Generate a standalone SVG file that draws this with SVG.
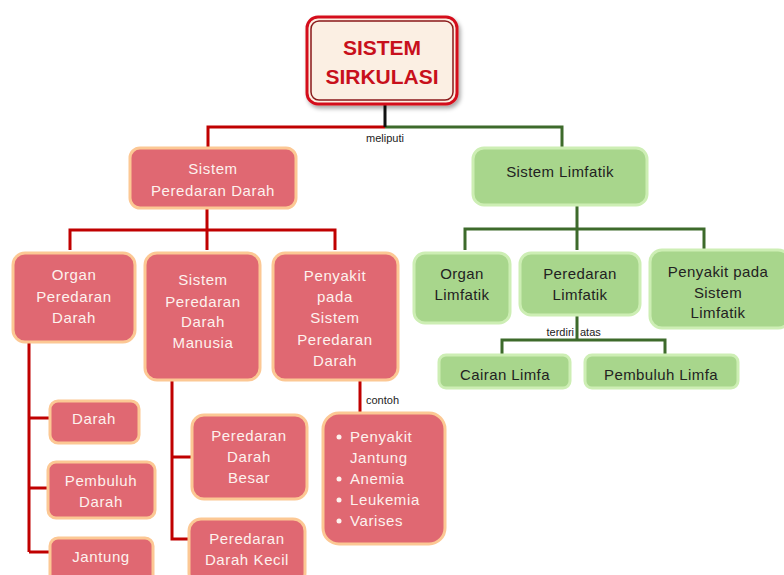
<svg xmlns="http://www.w3.org/2000/svg" width="784" height="575" viewBox="0 0 784 575">
<style>
.r{fill:#e06872;stroke:#fcc894;stroke-width:3}
.g{fill:#a8d68c;stroke:#cdeeb4;stroke-width:3}
.tr{font-family:"Liberation Sans",Arial,sans-serif;font-size:15px;fill:#fdf2ee;text-anchor:middle;letter-spacing:0.6px}
.tg{font-family:"Liberation Sans",Arial,sans-serif;font-size:15px;fill:#222;text-anchor:middle;letter-spacing:0.4px}
.lr{stroke:#c00000;stroke-width:3;fill:none}
.lg{stroke:#3d6a2b;stroke-width:3;fill:none}
.lk{stroke:#111;stroke-width:3;fill:none}
.lb{font-family:"Liberation Sans",Arial,sans-serif;font-size:11px;fill:#222}
.tt{font-family:"Liberation Sans",Arial,sans-serif;font-size:21px;font-weight:bold;fill:#c8101c;text-anchor:middle}
</style>
<defs>
<filter id="sh" x="-10%" y="-10%" width="130%" height="130%"><feDropShadow dx="2" dy="3" stdDeviation="2" flood-color="#000" flood-opacity="0.35"/></filter>
</defs>
<rect width="784" height="575" fill="#fff"/>
<g id="connectors">
<path class="lr" d="M385 127H208V148"/>
<path class="lg" d="M385 127H562V148"/>
<line class="lk" x1="385" y1="104" x2="385" y2="127"/>
<path class="lr" d="M207 208V250M70 250V230H335V250"/>
<path class="lr" d="M29 342V552M29 418H50M29 488H48M29 552H50"/>
<path class="lr" d="M172 380V539H190M172 457H192"/>
<path class="lr" d="M360 380V412"/>
<path class="lg" d="M577 205V250M465 250V229H704V250"/>
<path class="lg" d="M577 315V340M502 355V340H665V355"/>
<text class="lb" x="385" y="142" text-anchor="middle">meliputi</text>
<text class="lb" x="366" y="404">contoh</text>
<text class="lb" x="574" y="336" text-anchor="end">terdiri</text>
<text class="lb" x="580" y="336">atas</text>
</g>
<g id="root" filter="url(#sh)">
<rect x="307" y="17" width="150" height="87" rx="11" fill="#fbefe3" stroke="#d4101c" stroke-width="3"/>
<rect x="311" y="21" width="142" height="79" rx="8" fill="none" stroke="#8a1a1a" stroke-width="1.5"/>
</g>
<g id="root-text">
<text class="tt" x="382" y="55">SISTEM</text>
<text class="tt" x="382" y="84">SIRKULASI</text>
</g>
<g id="spd"><rect class="r" x="130" y="148" width="166" height="60" rx="10"/><text class="tr" x="213" y="174">Sistem</text><text class="tr" x="213" y="196">Peredaran Darah</text></g>
<g id="opd"><rect class="r" x="13" y="253" width="122" height="89" rx="12"/><text class="tr" x="74" y="280">Organ</text><text class="tr" x="74" y="302">Peredaran</text><text class="tr" x="74" y="323">Darah</text></g>
<g id="spdm"><rect class="r" x="145" y="253" width="115" height="127" rx="12"/><text class="tr" x="203" y="285">Sistem</text><text class="tr" x="203" y="307">Peredaran</text><text class="tr" x="203" y="327">Darah</text><text class="tr" x="203" y="348">Manusia</text></g>
<g id="pspd"><rect class="r" x="273" y="253" width="125" height="127" rx="12"/><text class="tr" x="335" y="281">Penyakit</text><text class="tr" x="335" y="302">pada</text><text class="tr" x="335" y="323">Sistem</text><text class="tr" x="335" y="345">Peredaran</text><text class="tr" x="335" y="366">Darah</text></g>
<g id="darah"><rect class="r" x="50" y="401" width="89" height="42" rx="8"/><text class="tr" x="94" y="424">Darah</text></g>
<g id="pembuluh"><rect class="r" x="48" y="462" width="107" height="56" rx="8"/><text class="tr" x="101" y="486">Pembuluh</text><text class="tr" x="101" y="507">Darah</text></g>
<g id="jantung"><rect class="r" x="50" y="538" width="103" height="45" rx="8"/><text class="tr" x="101" y="562">Jantung</text></g>
<g id="pdb"><rect class="r" x="192" y="415" width="115" height="84" rx="12"/><text class="tr" x="249" y="441">Peredaran</text><text class="tr" x="249" y="462">Darah</text><text class="tr" x="249" y="483">Besar</text></g>
<g id="pdk"><rect class="r" x="189" y="519" width="116" height="66" rx="12"/><text class="tr" x="247" y="544">Peredaran</text><text class="tr" x="247" y="565">Darah Kecil</text></g>
<g id="contoh"><rect class="r" x="323" y="413" width="122" height="131" rx="16"/>
<g class="tr" style="text-anchor:start">
<circle cx="339" cy="437" r="2.5" fill="#fdf2ee"/><text x="350" y="442">Penyakit</text><text x="350" y="463">Jantung</text>
<circle cx="339" cy="479" r="2.5" fill="#fdf2ee"/><text x="350" y="484">Anemia</text>
<circle cx="339" cy="500" r="2.5" fill="#fdf2ee"/><text x="350" y="505">Leukemia</text>
<circle cx="339" cy="521" r="2.5" fill="#fdf2ee"/><text x="350" y="526">Varises</text>
</g></g>
<g id="sl"><rect class="g" x="473" y="148" width="174" height="57" rx="11"/><text class="tg" x="560" y="177">Sistem Limfatik</text></g>
<g id="ol"><rect class="g" x="414" y="253" width="96" height="70" rx="11"/><text class="tg" x="462" y="279">Organ</text><text class="tg" x="462" y="300">Limfatik</text></g>
<g id="pl"><rect class="g" x="520" y="253" width="120" height="62" rx="11"/><text class="tg" x="580" y="279">Peredaran</text><text class="tg" x="580" y="300">Limfatik</text></g>
<g id="psl"><rect class="g" x="650" y="250" width="140" height="78" rx="12"/><text class="tg" x="718" y="277">Penyakit pada</text><text class="tg" x="718" y="298">Sistem</text><text class="tg" x="718" y="318">Limfatik</text></g>
<g id="cl"><rect class="g" x="439" y="355" width="131" height="33" rx="7"/><text class="tg" x="505" y="380">Cairan Limfa</text></g>
<g id="pbl"><rect class="g" x="585" y="355" width="153" height="33" rx="7"/><text class="tg" x="661" y="380">Pembuluh Limfa</text></g>
</svg>
